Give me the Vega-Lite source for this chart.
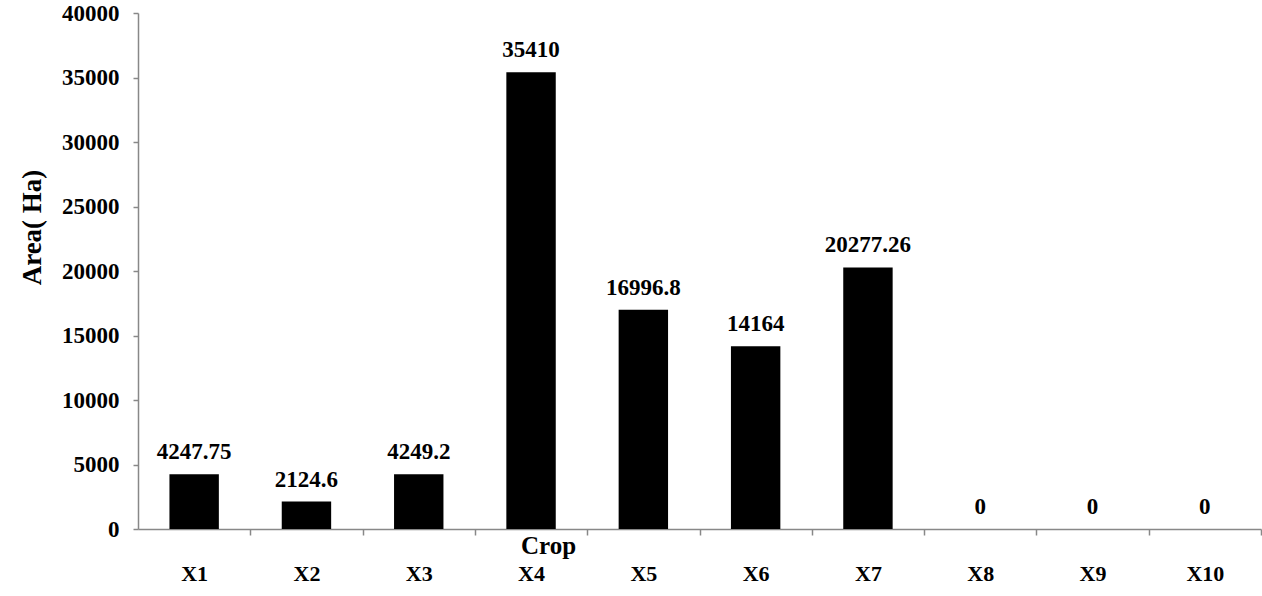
{
  "$schema": "https://vega.github.io/schema/vega-lite/v6.json",
  "width": 1123,
  "height": 516,
  "autosize": {"type": "none"},
  "padding": {"left": 138, "top": 13, "right": 1, "bottom": 67},
  "background": "white",
  "data": {
    "values": [
      {"crop": "X1", "area": 4247.75, "label": "4247.75"},
      {"crop": "X2", "area": 2124.6, "label": "2124.6"},
      {"crop": "X3", "area": 4249.2, "label": "4249.2"},
      {"crop": "X4", "area": 35410, "label": "35410"},
      {"crop": "X5", "area": 16996.8, "label": "16996.8"},
      {"crop": "X6", "area": 14164, "label": "14164"},
      {"crop": "X7", "area": 20277.26, "label": "20277.26"},
      {"crop": "X8", "area": 0, "label": "0"},
      {"crop": "X9", "area": 0, "label": "0"},
      {"crop": "X10", "area": 0, "label": "0"}
    ]
  },
  "config": {
    "view": {"stroke": null},
    "font": "Liberation Serif",
    "axis": {
      "grid": false,
      "domainColor": "#888888",
      "tickColor": "#888888",
      "domainWidth": 1.5,
      "tickWidth": 1.5,
      "labelFont": "Liberation Serif",
      "labelFontWeight": "bold",
      "labelColor": "black",
      "titleFont": "Liberation Serif",
      "titleFontWeight": "bold",
      "titleColor": "black"
    }
  },
  "encoding": {
    "x": {
      "field": "crop",
      "type": "nominal",
      "sort": null,
      "scale": {"paddingInner": 0.56, "paddingOuter": 0.28},
      "axis": {
        "title": "Crop",
        "titleFontSize": 25,
        "titleX": 410,
        "titleY": 16,
        "titleAlign": "center",
        "titleBaseline": "middle",
        "labelAngle": 0,
        "labelFontSize": 22,
        "labelPadding": 28,
        "tickOffset": 56.15,
        "labelOffset": -56.15,
        "tickSize": 6
      }
    },
    "y": {
      "field": "area",
      "type": "quantitative",
      "scale": {"domain": [0, 40000], "nice": false},
      "axis": {
        "title": "Area( Ha)",
        "titleFontSize": 27,
        "titleAngle": 270,
        "titleX": -106,
        "titleY": 214,
        "titleAlign": "center",
        "titleBaseline": "middle",
        "values": [0, 5000, 10000, 15000, 20000, 25000, 30000, 35000, 40000],
        "format": "d",
        "labelFontSize": 23,
        "labelPadding": 14,
        "tickSize": 5
      }
    }
  },
  "layer": [
    {"mark": {"type": "bar", "color": "black"}},
    {
      "mark": {
        "type": "text",
        "font": "Liberation Serif",
        "fontWeight": "bold",
        "fontSize": 23,
        "baseline": "alphabetic",
        "dy": -15,
        "color": "black"
      },
      "encoding": {"text": {"field": "label"}}
    }
  ]
}
